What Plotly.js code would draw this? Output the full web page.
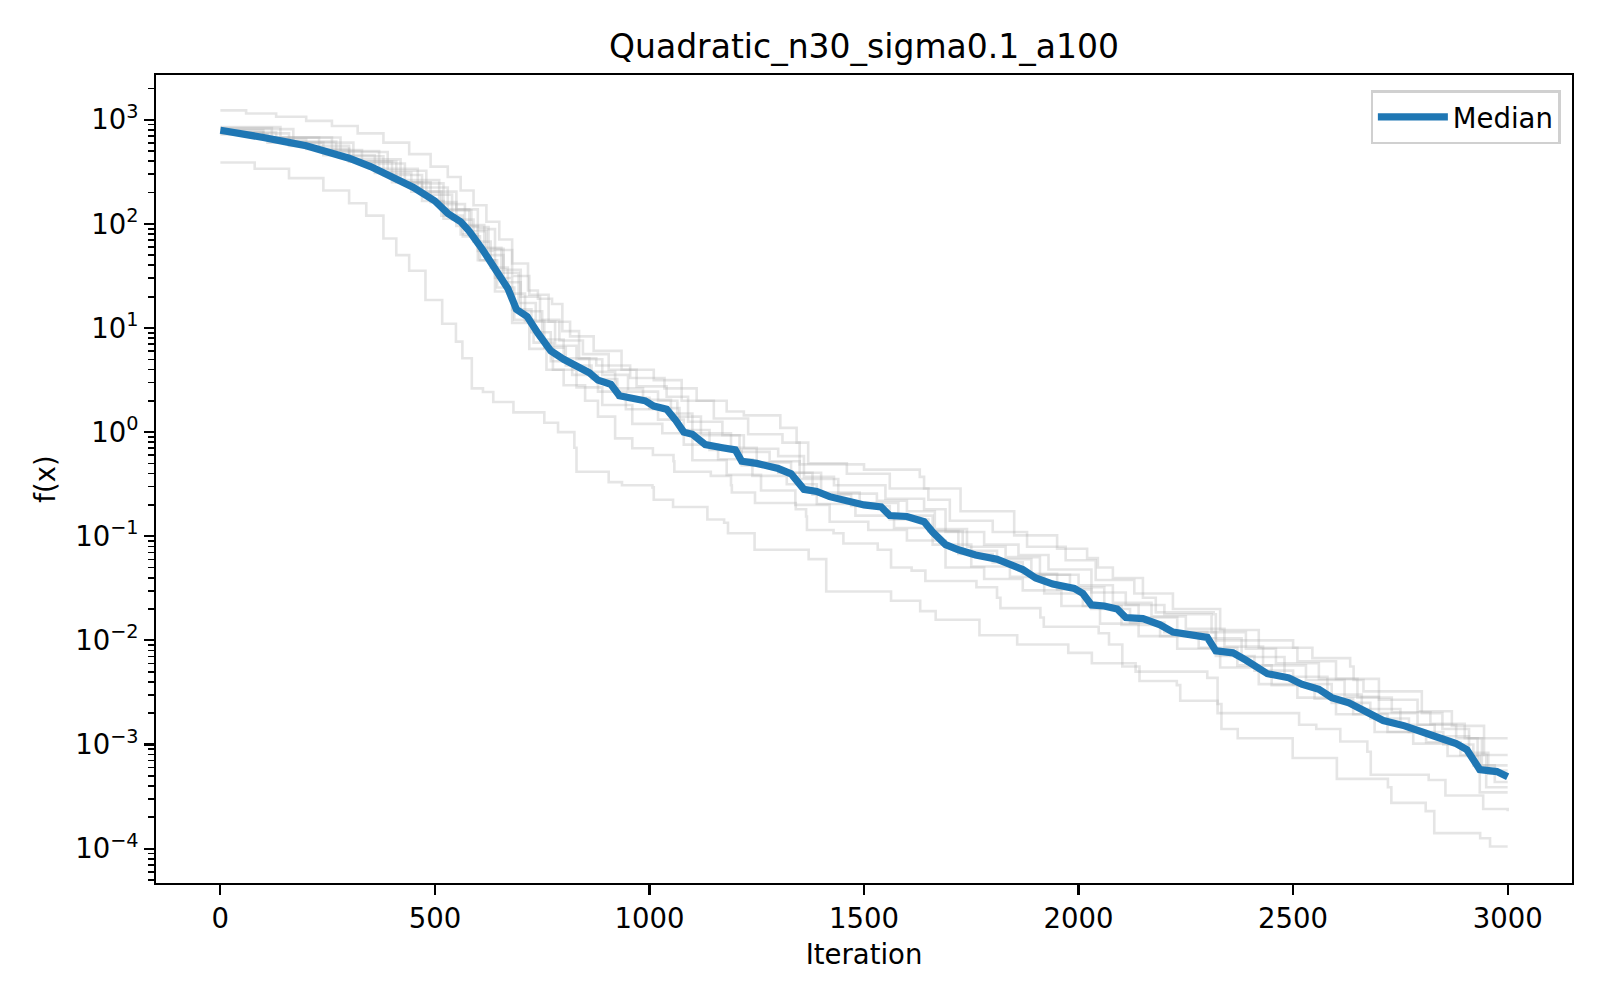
<!DOCTYPE html>
<html>
<head>
<meta charset="utf-8">
<script src="https://cdn.plot.ly/plotly-3.0.1.min.js"></script>
<style>html,body{margin:0;padding:0;background:#fff;}#chart{width:1600px;height:1000px;}</style>
</head>
<body>
<div id="chart"></div>
<script>
// ---- data (iteration, f(x)) ----
const medianIter = [0,50,100,150,200,250,300,350,400,450,500,530,560,580,610,640,670,690,715,740,770,800,830,860,880,910,930,960,990,1010,1040,1060,1080,1100,1130,1170,1200,1215,1250,1300,1330,1360,1390,1420,1460,1500,1540,1560,1600,1640,1660,1690,1720,1760,1810,1840,1870,1900,1940,1990,2010,2030,2060,2090,2110,2150,2190,2220,2260,2300,2320,2360,2390,2440,2490,2520,2560,2590,2630,2660,2710,2760,2800,2830,2880,2905,2935,2975,3000];
const medianF = [794,741,676,617,562,490,427,355,282,224,166,126,105,85.1,57.5,37.2,24.0,15.1,12.9,8.91,6.03,5.01,4.27,3.72,3.16,2.88,2.24,2.09,2.00,1.78,1.66,1.32,1.00,0.955,0.759,0.708,0.676,0.525,0.501,0.447,0.398,0.282,0.269,0.240,0.219,0.200,0.191,0.158,0.155,0.138,0.110,0.0832,0.0741,0.0661,0.0603,0.0537,0.0479,0.0398,0.0347,0.0316,0.0282,0.0219,0.0214,0.0200,0.0166,0.0162,0.0141,0.0120,0.0112,0.0107,0.00794,0.00759,0.00646,0.00479,0.00437,0.00380,0.00339,0.00282,0.00251,0.00219,0.00170,0.00151,0.00135,0.00120,0.00102,0.000891,0.000575,0.000550,0.000490];

const runAIter = [0,60,130,200,260,320,380,440,490,530,560,590,620,650,680,717,740,773,797,836,876,955,1035,1110,1180,1220,1305,1343,1350,1500,1630,1640,1725,1850,1950,2020,2045,2080,2150,2180,2315,2320,2500,2545,2633,2641,2664,2800,2848,2910,3000];
const runAF = [1230,1150,1070,977,871,741,603,468,355,282,209,151,105,70.8,41.7,22.9,19.1,17.0,9.33,5.13,4.37,3.31,2.63,2.00,1.58,1.45,1.10,0.794,0.490,0.437,0.372,0.288,0.174,0.102,0.0759,0.0617,0.0501,0.0398,0.0257,0.0186,0.0178,0.0100,0.00851,0.00676,0.00562,0.00417,0.00324,0.00200,0.00141,0.00115,0.00115];

const runBIter = [0,80,160,240,300,340,380,410,440,478,517,549,564,586,612,636,683,755,787,825,830,905,936,1007,1010,1055,1135,1174,1183,1245,1371,1412,1563,1631,1667,1769,1857,1976,2031,2133,2300,2324,2514,2554,2610,2673,2681,2816,2855,2943,3000];
const runBF = [389,339,275,209,158,120,72.4,50.1,35.5,18.6,11.0,7.41,5.13,2.63,2.43,1.95,1.55,1.23,1.00,0.708,0.417,0.331,0.309,0.295,0.224,0.191,0.145,0.135,0.107,0.0741,0.0603,0.0295,0.0240,0.0191,0.0158,0.0112,0.00912,0.00759,0.00603,0.00501,0.00437,0.00200,0.00155,0.00141,0.00107,0.000851,0.000513,0.000457,0.000324,0.000240,0.000229];

const runCIter = [0,100,200,300,400,470,520,560,600,640,680,720,760,800,850,880,920,960,1008,1056,1058,1143,1190,1192,1246,1341,1365,1367,1429,1452,1532,1563,1611,1643,1762,1810,1818,1911,1919,2047,2071,2102,2142,2229,2237,2324,2333,2371,2499,2602,2721,2729,2809,2829,2936,2959,3000];
const runCF = [759,646,525,398,251,166,112,79.4,44.7,22.4,11.2,6.31,3.98,2.82,2.00,1.41,0.871,0.700,0.603,0.525,0.417,0.380,0.309,0.263,0.209,0.182,0.155,0.115,0.107,0.0851,0.0741,0.0501,0.0468,0.0372,0.0324,0.0257,0.0204,0.0166,0.0135,0.0117,0.00912,0.00562,0.00407,0.00372,0.00263,0.00245,0.00141,0.00115,0.000741,0.000468,0.000389,0.000275,0.000229,0.000141,0.000126,0.000105,0.000105];

const runDIter = [0,140,280,390,480,550,600,640,680,720,765,815,870,935,1010,1075,1150,1230,1310,1370,1460,1560,1650,1700,1800,1880,1970,2040,2130,2220,2330,2420,2510,2600,2700,2790,2870,2945,3000];
const runDF = [851,676,490,324,204,138,89.1,56.2,31.6,20.9,11.5,8.32,6.03,3.98,3.16,2.00,1.35,0.955,0.794,0.501,0.398,0.288,0.224,0.141,0.110,0.0794,0.0589,0.0380,0.0282,0.0200,0.0126,0.00851,0.00631,0.00427,0.00269,0.00209,0.00151,0.000794,0.000794];

const runEIter = [0,120,260,370,460,530,585,625,660,700,745,790,845,905,970,1040,1090,1170,1220,1300,1360,1430,1550,1640,1690,1780,1860,1930,2030,2110,2200,2310,2390,2460,2560,2650,2730,2820,2900,2940,3000];
const runEF = [832,676,501,339,224,135,93.3,57.5,36.3,20.0,12.0,7.59,5.62,3.98,2.75,2.19,1.26,0.933,0.692,0.589,0.372,0.309,0.229,0.182,0.110,0.0832,0.0661,0.0479,0.0288,0.0219,0.0178,0.0120,0.00832,0.00603,0.00427,0.00282,0.00204,0.00158,0.00115,0.000631,0.000631];

const runFIter = [0,170,310,420,510,570,615,655,695,735,780,830,890,950,1020,1065,1120,1210,1280,1350,1440,1530,1600,1665,1740,1830,1910,2000,2080,2170,2250,2340,2430,2530,2620,2700,2790,2880,2930,3000];
const runFF = [813,603,417,263,155,97.7,58.9,33.9,17.4,11.5,6.76,5.01,3.55,2.45,2.00,1.41,0.933,0.646,0.525,0.355,0.257,0.219,0.174,0.117,0.0794,0.0631,0.0427,0.0339,0.0229,0.0170,0.0129,0.00871,0.00575,0.00417,0.00288,0.00200,0.00155,0.00115,0.000562,0.000562];

const runGIter = [0,100,230,330,430,520,580,620,660,700,750,800,860,920,985,1050,1100,1190,1250,1330,1400,1490,1580,1660,1730,1810,1890,1980,2060,2140,2230,2300,2380,2480,2580,2660,2750,2830,2910,2955,3000];
const runGF = [794,676,513,380,245,138,85.1,50.1,27.5,14.5,7.76,5.13,3.80,2.63,2.04,1.51,0.977,0.708,0.513,0.407,0.263,0.209,0.158,0.112,0.0724,0.0603,0.0427,0.0324,0.0219,0.0166,0.0120,0.0105,0.00692,0.00447,0.00302,0.00219,0.00155,0.00120,0.000832,0.000525,0.000525];

const runHIter = [0,130,270,380,470,540,590,630,670,710,755,805,865,925,1000,1070,1140,1215,1300,1380,1470,1560,1650,1720,1800,1870,1950,2030,2120,2200,2320,2410,2500,2590,2680,2770,2850,2920,2970,3000];
const runHF = [759,617,447,295,191,110,67.6,38.0,21.4,11.7,6.46,4.37,3.24,2.14,1.70,1.05,0.676,0.479,0.407,0.251,0.195,0.145,0.112,0.0676,0.0562,0.0437,0.0309,0.0200,0.0148,0.0120,0.00708,0.00513,0.00380,0.00251,0.00178,0.00132,0.00100,0.000631,0.000437,0.000437];

const runIIter = [0,160,300,410,490,550,600,640,680,725,770,820,880,945,1020,1080,1160,1240,1320,1390,1480,1570,1660,1750,1840,1920,2010,2100,2190,2280,2370,2450,2550,2640,2720,2810,2890,2950,3000];
const runIF = [741,562,398,251,162,95.5,55.0,30.2,15.1,9.12,4.79,3.55,2.45,1.66,1.32,0.759,0.550,0.380,0.316,0.204,0.158,0.120,0.0832,0.0513,0.0407,0.0282,0.0214,0.0141,0.0110,0.00851,0.00575,0.00372,0.00275,0.00195,0.00132,0.00105,0.000794,0.000389,0.000389];

const runJIter = [0,110,240,360,445,515,565,605,645,685,730,775,830,890,960,1030,1100,1180,1260,1340,1420,1510,1600,1690,1780,1870,1960,2050,2140,2230,2330,2420,2510,2600,2690,2780,2860,2935,3000];
const runJF = [724,603,457,309,204,120,75.9,44.7,24.5,12.0,7.24,3.98,2.69,1.82,1.20,0.977,0.537,0.389,0.275,0.200,0.138,0.115,0.0912,0.0501,0.0389,0.0302,0.0214,0.0145,0.0110,0.00832,0.00550,0.00380,0.00282,0.00195,0.00132,0.00102,0.000776,0.000347,0.000347];

const xTickVals = [0,500,1000,1500,2000,2500,3000];
const yTickVals = [1e-4,1e-3,1e-2,1e-1,1,10,100,1000];
const yTickText = ['10<sup>\u22124</sup>','10<sup>\u22123</sup>','10<sup>\u22122</sup>','10<sup>\u22121</sup>','10<sup>0</sup>','10<sup>1</sup>','10<sup>2</sup>','10<sup>3</sup>'];
const chartTitle = 'Quadratic_n30_sigma0.1_a100';
const xTitle = 'Iteration';
const yTitle = 'f(x)';
const legendName = 'Median';

// ---- build traces ----
const runs = [
  [runAIter, runAF],[runBIter, runBF],[runCIter, runCF],[runDIter, runDF],[runEIter, runEF],
  [runFIter, runFF],[runGIter, runGF],[runHIter, runHF],[runIIter, runIF],[runJIter, runJF]
];
const traces = runs.map(r => ({
  x: r[0], y: r[1], type: 'scatter', mode: 'lines',
  line: {color: 'rgba(175,175,175,0.32)', width: 2.6, shape: 'hv'},
  showlegend: false, hoverinfo: 'skip'
}));
traces.push({
  x: medianIter, y: medianF, type: 'scatter', mode: 'lines', name: legendName,
  line: {color: '#1f77b4', width: 7.2}
});

const minorVals = [];
for (let e = -5; e <= 3; e++) {
  for (let m = 2; m <= 9; m++) minorVals.push(m * Math.pow(10, e));
}

const font = 'DejaVu Sans, Liberation Sans, sans-serif';
const layout = {
  width: 1600, height: 1000,
  paper_bgcolor: '#ffffff', plot_bgcolor: '#ffffff',
  margin: {l: 156, r: 28, t: 75, b: 117},
  font: {family: font, size: 27.5, color: '#000'},
  title: {text: chartTitle, font: {family: font, size: 33, color: '#000'},
          x: 0.5, xref: 'paper', xanchor: 'center', y: 0.954, yref: 'container', yanchor: 'middle'},
  showlegend: true,
  legend: {x: 0.992, y: 0.981, xanchor: 'right', yanchor: 'top', itemwidth: 70,
           bgcolor: 'rgba(255,255,255,0.8)', bordercolor: '#d0d0d0', borderwidth: 2.2,
           font: {family: font, size: 27.5, color: '#000'}},
  xaxis: {
    range: [-150, 3150], showgrid: false, zeroline: false,
    showline: true, linecolor: '#000', linewidth: 2.2, mirror: true,
    ticks: 'outside', ticklen: 9.7, tickwidth: 2.2, tickcolor: '#000',
    tickmode: 'array', tickvals: xTickVals,
    tickfont: {family: font, size: 27.5, color: '#000'},
    title: {text: xTitle, font: {family: font, size: 27.5, color: '#000'}, standoff: 12},
    automargin: false
  },
  yaxis: {
    type: 'log', range: [-4.33, 3.43], showgrid: false, zeroline: false,
    showline: true, linecolor: '#000', linewidth: 2.2, mirror: true,
    ticks: 'outside', ticklen: 9.7, tickwidth: 2.2, tickcolor: '#000',
    tickmode: 'array', tickvals: yTickVals, ticktext: yTickText,
    tickfont: {family: font, size: 27.5, color: '#000'},
    minor: {ticks: 'outside', ticklen: 5.5, tickwidth: 1.7, tickcolor: '#000',
            tickmode: 'array', tickvals: minorVals, showgrid: false},
    title: {text: yTitle, font: {family: font, size: 27.5, color: '#000'}, standoff: 12},
    automargin: false
  }
};

Plotly.newPlot('chart', traces, layout, {displayModeBar: false, staticPlot: true});
</script>
</body>
</html>
